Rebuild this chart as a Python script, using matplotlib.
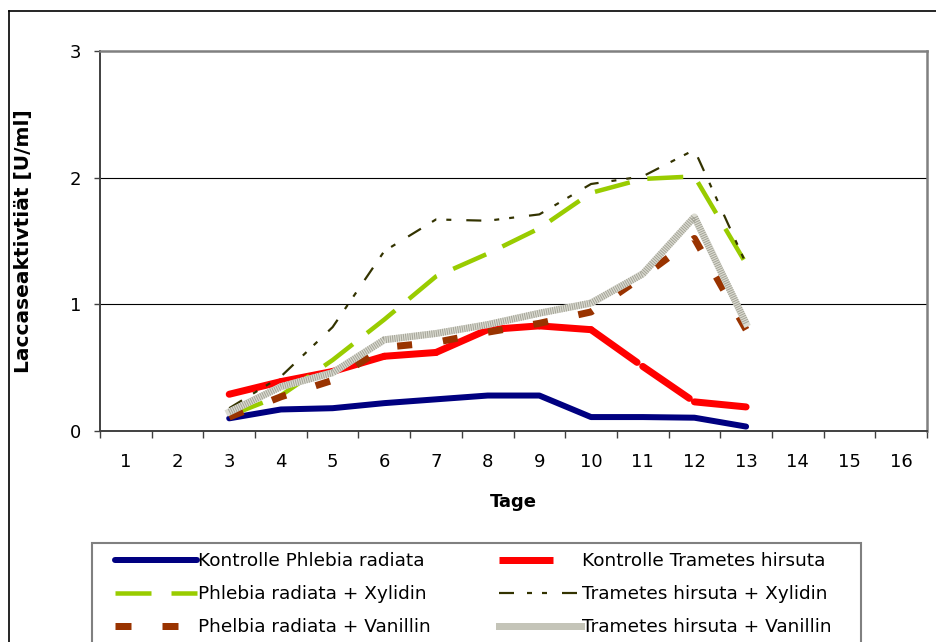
"""Laccaseaktivitaet ueber die Tage"""
import matplotlib
matplotlib.use("Agg")
import matplotlib.pyplot as plt
from matplotlib.lines import Line2D
from matplotlib.patches import Rectangle
import numpy as np

plt.rcParams['font.family'] = ['DejaVu Sans']
plt.rcParams['lines.scale_dashes'] = False

categories = list(range(1, 17))
days = [3, 4, 5, 6, 7, 8, 9, 10, 11, 12, 13]

kontrolle_phlebia = [0.10, 0.17, 0.18, 0.22, 0.25, 0.28, 0.28, 0.11, 0.11, 0.105, 0.035]
kontrolle_trametes = [0.29, 0.39, 0.47, 0.59, 0.62, 0.80, 0.83, 0.80, 0.51, 0.23, 0.19]
phlebia_xylidin = [0.12, 0.28, 0.56, 0.88, 1.22, 1.40, 1.60, 1.88, 1.99, 2.01, 1.32]
trametes_xylidin = [0.18, 0.43, 0.82, 1.42, 1.67, 1.66, 1.71, 1.95, 2.01, 2.22, 1.32]
phelbia_vanillin = [0.11, 0.27, 0.40, 0.66, 0.70, 0.78, 0.85, 0.94, 1.22, 1.52, 0.80]
trametes_vanillin = [0.15, 0.35, 0.46, 0.72, 0.77, 0.84, 0.93, 1.01, 1.24, 1.69, 0.85]

labels = ['Kontrolle Phlebia radiata', 'Kontrolle Trametes hirsuta',
          'Phlebia radiata + Xylidin', 'Trametes hirsuta + Xylidin',
          'Phelbia radiata + Vanillin', 'Trametes hirsuta + Vanillin']

PX = 0.72  # points per pixel at dpi 100


def main():
    """Draw the chart"""
    fig = plt.figure(figsize=(9.36, 6.42), dpi=100)
    ax = fig.add_axes([100 / 936, 1 - 431 / 642, 827 / 936, 380 / 642])

    # grid behind the lines
    for yv in [1, 2]:
        ax.axhline(yv, color='black', lw=0.8, zorder=1)

    # Kontrolle Phlebia radiata
    ax.plot(days, kontrolle_phlebia, color='#000080', lw=6 * PX,
            solid_capstyle='round', zorder=2)

    # Kontrolle Trametes hirsuta: dash pattern restarts on every segment
    for i in range(len(days) - 1):
        ax.plot(days[i:i + 2], kontrolle_trametes[i:i + 2], color='#ff0000',
                lw=7 * PX, dashes=(56.5 * PX, 10 * PX),
                dash_capstyle='round', zorder=3)

    ax.plot(days, phlebia_xylidin, color='#99cc00', lw=4.5 * PX,
            dashes=(36 * PX, 18 * PX), zorder=4)
    ax.plot(days, trametes_xylidin, color='#333300', lw=2.2 * PX,
            dashes=[v * PX for v in (15, 13, 5, 10, 5, 15)], zorder=5)
    ax.plot(days, phelbia_vanillin, color='#993300', lw=7 * PX,
            dashes=(15 * PX, 31 * PX), zorder=6)
    ax.plot(days, trametes_vanillin, color='#dcdcd2', lw=7 * PX, zorder=7)
    ax.plot(days, trametes_vanillin, color='#a4a498', lw=7 * PX,
            dashes=(1 * PX, 1.2 * PX), zorder=8)

    ax.set_xlim(0.5, 16.5)
    ax.set_ylim(0, 3)
    ax.set_xticks(categories)
    ax.set_xticks(np.arange(0.5, 17, 1), minor=True)
    ax.tick_params(axis='x', which='major', length=0, pad=16, labelsize=13)
    ax.tick_params(axis='x', which='minor', length=5, width=1, direction='out',
                   color='#404040')
    ax.set_yticks([0, 1, 2, 3])
    ax.tick_params(axis='y', length=4.3, width=1, direction='out', pad=9,
                   labelsize=13, color='#404040')

    for side in ['top', 'right']:
        ax.spines[side].set_color('#808080')
        ax.spines[side].set_linewidth(1.8)
    for side in ['left', 'bottom']:
        ax.spines[side].set_color('#404040')
        ax.spines[side].set_linewidth(1.4)

    ax.set_xlabel('Tage', fontsize=13, fontweight='bold')
    ax.xaxis.set_label_coords(0.5, (431 - 493) / 380)
    ax.set_ylabel('Laccaseaktivtiät [U/ml]', fontsize=14.5, fontweight='bold')
    ax.yaxis.set_label_coords((33 - 100) / 827, 0.5)

    # legend handles
    handles = [
        Line2D([], [], color='#000080', lw=6 * PX, solid_capstyle='round'),
        Line2D([], [], color='#ff0000', lw=7 * PX, dashes=(54 * PX, 40 * PX)),
        Line2D([], [], color='#99cc00', lw=4.5 * PX, dashes=(36 * PX, 20 * PX)),
        Line2D([], [], color='#333300', lw=2.2 * PX,
               dashes=[v * PX for v in (15, 13, 5, 10, 5, 15)]),
        Line2D([], [], color='#993300', lw=7 * PX, dashes=(16 * PX, 31 * PX)),
        Line2D([], [], color='#c4c4b8', lw=7 * PX),
    ]
    order = [0, 2, 4, 1, 3, 5]
    fig.legend([handles[i] for i in order], [labels[i] for i in order],
               ncol=2, loc='upper left',
               bbox_to_anchor=(115 / 936, 1 - 552 / 642),
               frameon=False, fontsize=13.3, borderpad=0, borderaxespad=0,
               handlelength=4.43, handletextpad=0.05, columnspacing=3.7,
               labelspacing=0.82)
    fig.add_artist(Rectangle((92 / 936, -0.05), (861 - 92) / 936,
                             (642 - 543) / 642 + 0.05,
                             transform=fig.transFigure, fill=False,
                             edgecolor='#808080', lw=1.5))

    # outer chart border
    fig.add_artist(Line2D([9 / 936, 9 / 936], [0, 1 - 11 / 642],
                          transform=fig.transFigure, color='black', lw=1.2))
    fig.add_artist(Line2D([9 / 936, 1], [1 - 11 / 642, 1 - 11 / 642],
                          transform=fig.transFigure, color='black', lw=1.2))

    fig.savefig('out.png', dpi=100)


if __name__ == "__main__":
    main()
